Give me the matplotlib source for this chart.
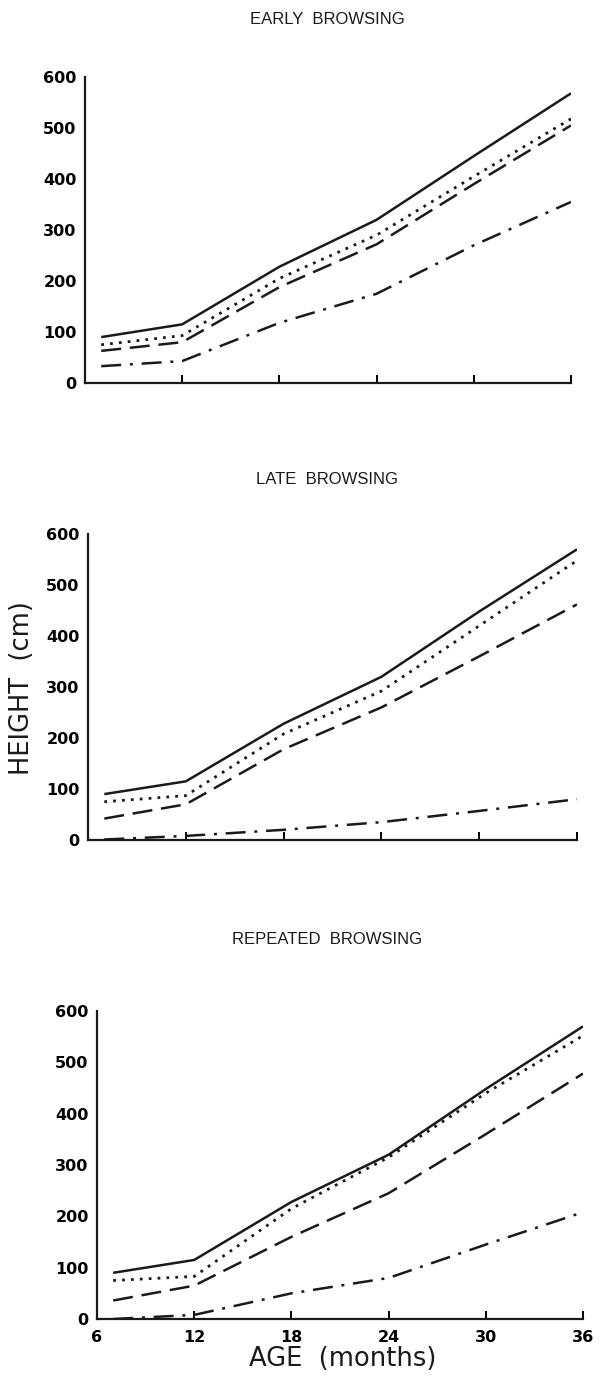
import matplotlib
matplotlib.use("Agg")
import matplotlib.pyplot as plt

# ages (months)
age = [7, 12, 18, 24, 30, 36]

# heights (cm)
early_solid = [90, 115, 228, 320, 445, 568]
early_dot = [75, 93, 205, 290, 405, 518]
early_dash = [63, 80, 188, 272, 390, 505]
early_dashdot = [33, 43, 118, 175, 270, 355]

late_solid = [90, 115, 228, 320, 448, 570]
late_dot = [75, 87, 208, 292, 420, 548]
late_dash = [42, 70, 178, 260, 360, 462]
late_dashdot = [1, 8, 20, 35, 57, 80]

rep_solid = [90, 115, 228, 320, 448, 570]
rep_dot = [75, 83, 215, 315, 440, 552]
rep_dash = [36, 65, 160, 245, 360, 478]
rep_dashdot = [0, 8, 50, 80, 145, 208]

titles = ["EARLY  BROWSING", "LATE  BROWSING", "REPEATED  BROWSING"]
xticks = [6, 12, 18, 24, 30, 36]
yticks = [0, 100, 200, 300, 400, 500, 600]

W, H = 610, 1379
fig = plt.figure(figsize=(W / 100, H / 100), dpi=100)

# axes boxes in pixels: left, top, right, bottom
boxes = [(85, 77, 571, 383), (88, 534, 577, 840), (97, 1011, 583, 1319)]
title_y = [20, 480, 940]

panels = [
    (early_solid, early_dot, early_dash, early_dashdot),
    (late_solid, late_dot, late_dash, late_dashdot),
    (rep_solid, rep_dot, rep_dash, rep_dashdot),
]

styles = [
    dict(linestyle="-", linewidth=1.8),
    dict(linestyle=(0, (1, 2.2)), linewidth=2.0),
    dict(linestyle=(0, (8, 3.5)), linewidth=1.8),
    dict(linestyle=(0, (8, 3.5, 1.2, 3.5)), linewidth=1.8),
]

tick_font = dict(family="DejaVu Sans", weight="bold", size=11.5)

for i, (box, series) in enumerate(zip(boxes, panels)):
    l, t, r, b = box
    ax = fig.add_axes([l / W, 1 - b / H, (r - l) / W, (b - t) / H])
    for ys, st in zip(series, styles):
        ax.plot(age, ys, color="#1a1a1a", solid_capstyle="butt", **st)
    ax.set_xlim(6, 36)
    ax.set_ylim(0, 600)
    for s in ["top", "right"]:
        ax.spines[s].set_visible(False)
    for s in ["left", "bottom"]:
        ax.spines[s].set_linewidth(1.6)
        ax.spines[s].set_color("#1a1a1a")
    ax.set_xticks(xticks[1:])
    ax.tick_params(axis="x", direction="in", length=6, width=1.4, pad=8)
    ax.set_yticks(yticks)
    ax.tick_params(axis="y", length=0, pad=6)
    ax.set_yticklabels([str(v) for v in yticks], fontdict=tick_font)
    if i < 2:
        ax.set_xticklabels([])
    else:
        ax.set_xticks(xticks)
        ax.set_xticklabels([str(v) for v in xticks], fontdict=tick_font)
        ax.xaxis.get_major_ticks()[0].tick1line.set_visible(False)
    fig.text(327 / W, 1 - title_y[i] / H, titles[i], ha="center", va="center",
             family="Liberation Sans", fontsize=12, color="#1a1a1a")

fig.text(22 / W, 1 - 688 / H, "HEIGHT  (cm)", rotation=90, ha="center", va="center",
         family="DejaVu Sans", fontsize=18.5, color="#1a1a1a")
fig.text(343 / W, 1 - 1359 / H, "AGE  (months)", ha="center", va="center",
         family="DejaVu Sans", fontsize=18.5, color="#1a1a1a")

fig.savefig("out.png", dpi=100)
